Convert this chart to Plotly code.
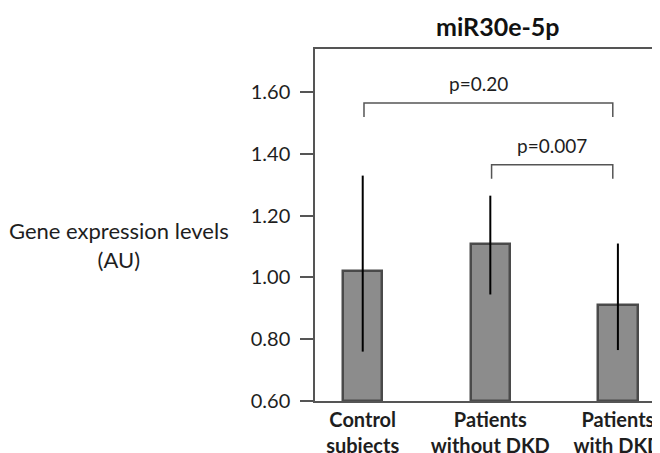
import plotly.graph_objects as go

categories = ["Control<br>subjects", "Patients<br>without DKD", "Patients<br>with DKD"]
means = [1.02, 1.11, 0.91]
err_upper = [1.33, 1.265, 1.11]
err_lower = [0.76, 0.945, 0.765]
y_ticks = [0.60, 0.80, 1.00, 1.20, 1.40, 1.60]
y_tick_labels = ["0.60", "0.80", "1.00", "1.20", "1.40", "1.60"]
comparisons = [(0, 2, 1.565, "p=0.20"), (1, 2, 1.365, "p=0.007")]

plus = [u - m for u, m in zip(err_upper, means)]
minus = [m - l for m, l in zip(means, err_lower)]

FONT = "Lato"
TXT = "#1e1e1e"

fig = go.Figure()
fig.add_trace(go.Bar(
    x=[0, 1, 2], y=[m - 0.6 for m in means], base=0.6,
    width=0.31,
    marker=dict(color="#8c8c8c", line=dict(color="#4a4a4a", width=2.5)),
    error_y=dict(type="data", symmetric=False,
                 array=plus, arrayminus=minus,
                 color="black", thickness=2, width=0),
    showlegend=False,
))

drop = 0.045
for i0, i1, h, txt in comparisons:
    xa, xb = i0 + 0.01, i1 - 0.04
    fig.add_shape(type="path",
                  path=f"M {xa} {h-drop} L {xa} {h} L {xb} {h} L {xb} {h-drop}",
                  xref="x", yref="y", line=dict(color="#555555", width=1.5))
    fig.add_annotation(x=(xa + xb) / 2 - (0.08 if i0 == 0 else 0), y=h, text=txt,
                       showarrow=False, yanchor="bottom", yshift=6,
                       font=dict(family=FONT, size=19, color=TXT))

fig.add_annotation(x=0.53, y=1.0, xref="paper", yref="paper", yanchor="bottom",
                   yshift=6, text="<b>miR30e-5p</b>", showarrow=False,
                   font=dict(family=FONT, size=25, color="#111111"))
fig.add_annotation(x=-0.567, y=0.443, xref="paper", yref="paper",
                   text="Gene expression levels<br>(AU)", showarrow=False,
                   xanchor="center", yanchor="middle",
                   font=dict(family=FONT, size=22, color=TXT))

fig.update_layout(
    width=652, height=445,
    margin=dict(l=307, r=0, t=41, b=52, autoexpand=False),
    paper_bgcolor="white", plot_bgcolor="white",
    font=dict(family=FONT, color=TXT),
    bargap=0,
)
fig.update_xaxes(
    range=[-0.374, 2.33], tickmode="array", tickvals=[0, 1, 2],
    ticktext=[f"<b>{c}</b>" for c in categories],
    showline=True, linecolor="#555555", linewidth=1.5, mirror=True,
    ticks="", showgrid=False, zeroline=False, ticklabeloverflow="allow",
    ticklabelstandoff=0, automargin=False,
    tickfont=dict(family=FONT, size=20, color=TXT),
)
fig.update_yaxes(
    range=[0.6, 1.74], tickmode="array", tickvals=y_ticks, ticktext=y_tick_labels,
    showline=True, linecolor="#555555", linewidth=1.5,
    ticks="outside", ticklen=13, tickcolor="#555555", tickwidth=1.5,
    showgrid=False, zeroline=False, ticklabelstandoff=6, automargin=False,
    tickfont=dict(family=FONT, size=20, color=TXT),
)

fig.write_html("out.html")
